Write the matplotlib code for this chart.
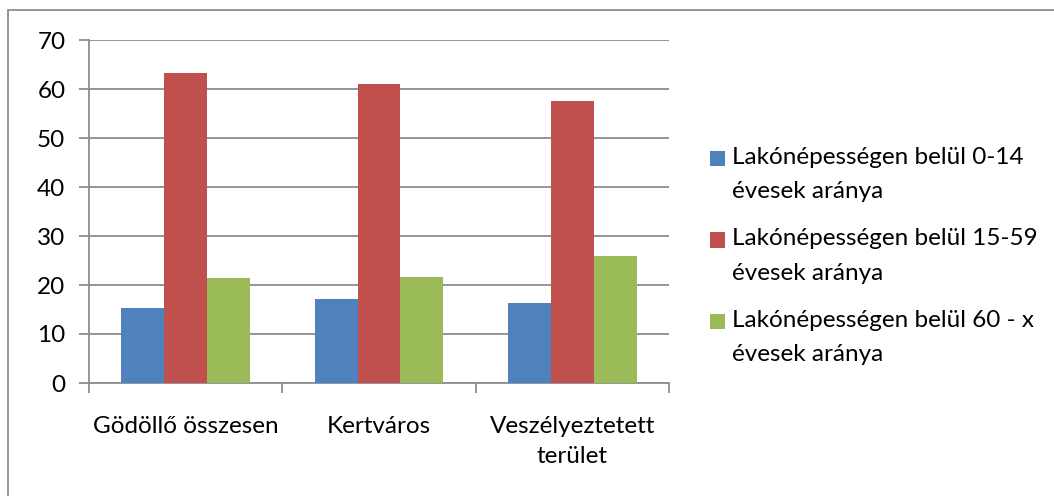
import numpy as np
import matplotlib.pyplot as plt
from matplotlib.patches import Rectangle
from matplotlib.container import BarContainer
from matplotlib.legend_handler import HandlerPatch

categories = ['Gödöllő összesen', 'Kertváros', 'Veszélyeztetett\nterület']
series_labels = ['Lakónépességen belül 0-14\névesek aránya',
                 'Lakónépességen belül 15-59\névesek aránya',
                 'Lakónépességen belül 60 - x\névesek aránya']
age_0_14 = [15.4, 17.1, 16.3]
age_15_59 = [63.2, 61.1, 57.6]
age_60_x = [21.4, 21.6, 25.9]
colors = ['#4F81BD', '#C0504D', '#9BBB59']

plt.rcParams['font.family'] = ['Lato', 'DejaVu Sans']
W, H = 1054, 496
fs = 17.5
fig = plt.figure(figsize=(W / 100, H / 100), dpi=100)
ax = fig.add_axes([89 / W, 1 - 383 / H, (669 - 89) / W, (383 - 40) / H])

x = np.arange(len(categories))
bw = 1 / 4.5
for i, vals in enumerate([age_0_14, age_15_59, age_60_x]):
    ax.bar(x + (i - 1) * bw, vals, width=bw, color=colors[i],
           label=series_labels[i], zorder=3, linewidth=0)

ax.set_xlim(-0.5, len(categories) - 0.5)
ax.set_ylim(0, 70)
ax.set_yticks(range(0, 71, 10))
ax.yaxis.grid(True, color='#8c8c8c', linewidth=1.3, zorder=0)
ax.set_xticks(np.arange(-0.5, len(categories), 1.0))
ax.set_xticklabels([])
ax.set_xticks(x, categories, minor=True)
ax.tick_params(axis='x', which='major', length=7, width=1.3, color='#8c8c8c')
ax.tick_params(axis='x', which='minor', length=0, pad=24, labelsize=fs)
ax.tick_params(axis='y', length=7, width=1.3, color='#8c8c8c', labelsize=fs, pad=10)
for lab in ax.get_xticklabels(minor=True):
    lab.set_linespacing(1.52)
for s in ['top', 'right']:
    ax.spines[s].set_visible(False)
for s in ['left', 'bottom']:
    ax.spines[s].set_color('#8c8c8c')
    ax.spines[s].set_linewidth(1.3)


# legend square sits next to the first line of the label
def top_square(legend, orig_handle, xdescent, ydescent, width, height, fontsize):
    return Rectangle((-xdescent, -ydescent + 0.66 * fontsize), width, height)


def from_first_bar(handle, orig):
    handle.update_from(orig.patches[0])


leg = ax.legend(loc='center left', bbox_to_anchor=(688 / W, 1 - 256 / H),
                bbox_transform=fig.transFigure, frameon=False, fontsize=fs,
                handlelength=0.62, handleheight=0.62, handletextpad=0.3,
                labelspacing=1.08,
                handler_map={BarContainer: HandlerPatch(patch_func=top_square,
                                                        update_func=from_first_bar)})
for t in leg.get_texts():
    t.set_linespacing(1.78)

fig.patches.append(Rectangle((7.5 / W, -0.1), 1.2, 1.1 - 10 / H,
                             transform=fig.transFigure, fill=False,
                             edgecolor='#8c8c8c', linewidth=1.3))

fig.savefig('out.png', dpi=100)
